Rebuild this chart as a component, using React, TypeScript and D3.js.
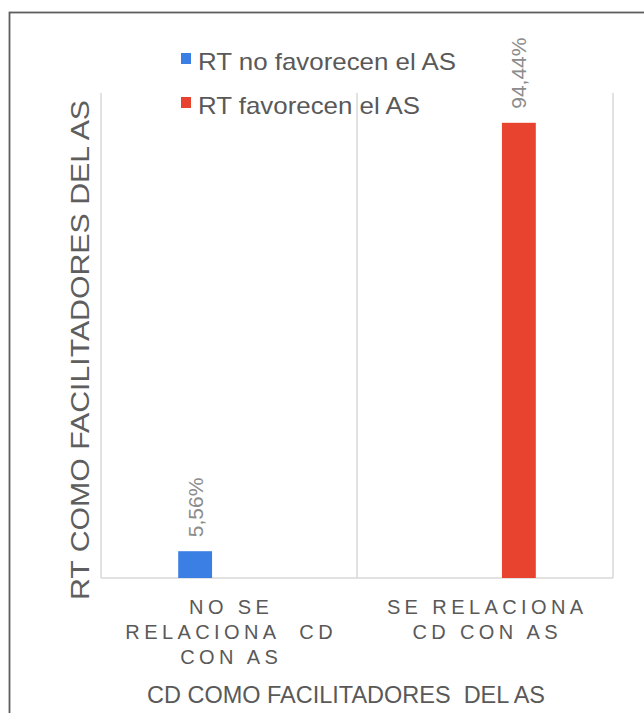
import React from "react";
import * as d3 from "d3";

// Categories on the x axis (multi-line labels)
const categories = ["no", "si"];
const categoryLines: string[][] = [
  ["NO SE", "RELACIONA  CD", "CON AS"],
  ["SE RELACIONA", "CD CON AS"],
];

// Series
const seriesNames = ["RT no favorecen el AS", "RT favorecen el AS"];
const seriesColors = ["#3b7fe5", "#e8432f"];

// Percent values: series x category
const noFavorecen = [5.56, 0];
const favorecen = [0, 94.44];
const valueLabels = [["5,56%", ""], ["", "94,44%"]];

const yTitle = "RT COMO FACILITADORES DEL AS";
const xTitle = "CD COMO FACILITADORES  DEL AS";

const W = 644;
const H = 713;
const plot = { left: 101, right: 613, top: 93, bottom: 578 };

export default function App() {
  const values = [noFavorecen, favorecen];

  const x = d3
    .scaleBand<string>()
    .domain(categories)
    .range([plot.left, plot.right])
    .paddingInner(0)
    .paddingOuter(0);

  const x1 = d3
    .scaleBand<string>()
    .domain(seriesNames)
    .range([0, x.bandwidth()])
    .paddingInner(0.5)
    .paddingOuter(1.14);

  const y = d3.scaleLinear().domain([0, 100]).range([plot.bottom, 96]);

  const font = "Liberation Sans, Arial, sans-serif";
  const boundaries = [...categories.map((c) => x(c)!), plot.right];
  const legendLengths = [258, 222];

  return (
    <div style={{ position: "fixed", left: 0, top: 0 }}>
      <svg width={W} height={H} style={{ display: "block", background: "#fff" }}>
        {/* outer frame */}
        <rect x={9.5} y={12.5} width={800} height={900} fill="none" stroke="#5e5e5e" strokeWidth={1.8} />

        {/* vertical category gridlines */}
        {boundaries.map((bx, i) => (
          <line key={i} x1={bx} x2={bx} y1={plot.top} y2={plot.bottom} stroke="#d9d9d9" strokeWidth={1.5} />
        ))}
        {/* baseline */}
        <line x1={plot.left} x2={plot.right} y1={plot.bottom} y2={plot.bottom} stroke="#d9d9d9" strokeWidth={1.5} />

        {/* bars */}
        {seriesNames.map((s, si) =>
          categories.map((c, ci) => {
            const v = values[si][ci];
            if (!v) return null;
            const bx = x(c)! + x1(s)!;
            return (
              <rect
                key={s + c}
                x={bx}
                y={y(v)}
                width={x1.bandwidth()}
                height={y(0) - y(v)}
                fill={seriesColors[si]}
              />
            );
          })
        )}

        {/* data labels */}
        {seriesNames.map((s, si) =>
          categories.map((c, ci) => {
            const v = values[si][ci];
            const lbl = valueLabels[si][ci];
            if (!lbl) return null;
            const cx = x(c)! + x1(s)! + x1.bandwidth() / 2;
            const ty = y(v) - 14;
            return (
              <text
                key={"l" + s + c}
                transform={`translate(${cx + 7.5},${ty}) rotate(-90)`}
                fontFamily={font}
                fontSize={21}
                fill="#8c8c8c"
                textAnchor="start"
              >
                {lbl}
              </text>
            );
          })
        )}

        {/* legend */}
        {seriesNames.map((s, i) => (
          <g key={"lg" + s} transform={`translate(181,${53 + i * 44})`}>
            <rect x={0} y={0} width={10} height={11} fill={seriesColors[i]} />
            <text
              x={17}
              y={17}
              fontFamily={font}
              fontSize={24}
              fill="#595959"
              textLength={legendLengths[i]}
              lengthAdjust="spacingAndGlyphs"
            >
              {s}
            </text>
          </g>
        ))}

        {/* category labels */}
        {categories.map((c, ci) => (
          <text
            key={"c" + c}
            fontFamily={font}
            fontSize={20}
            fill="#595959"
            textAnchor="middle"
            letterSpacing={4.4}
            style={{ whiteSpace: "pre" }}
          >
            {categoryLines[ci].map((line, li) => (
              <tspan key={li} x={x(c)! + x.bandwidth() / 2 + 2.2} y={614 + li * 25}>
                {line}
              </tspan>
            ))}
          </text>
        ))}

        {/* axis titles */}
        <text
          transform={`translate(89,350) rotate(-90)`}
          fontFamily={font}
          fontSize={25}
          fill="#5e5e5e"
          textAnchor="middle"
          textLength={500}
          lengthAdjust="spacingAndGlyphs"
        >
          {yTitle}
        </text>
        <text
          x={346}
          y={703}
          fontFamily={font}
          fontSize={24}
          fill="#595959"
          textAnchor="middle"
          textLength={398}
          lengthAdjust="spacingAndGlyphs"
          style={{ whiteSpace: "pre" }}
        >
          {xTitle}
        </text>
      </svg>
    </div>
  );
}
